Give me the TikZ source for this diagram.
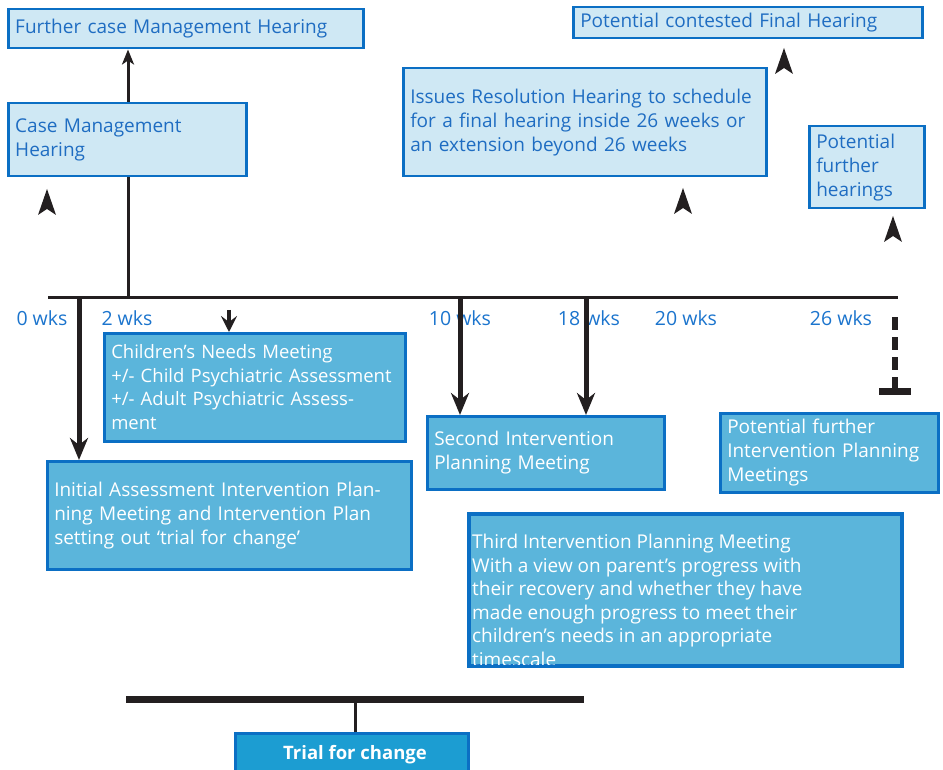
\documentclass[tikz,border=0pt]{standalone}
\usepackage{fontspec}
\setmainfont{Open Sans}
\usetikzlibrary{calc, positioning}
\usetikzlibrary{arrows.meta}

\definecolor{boxline}{HTML}{0B6FC4}
\definecolor{palefill}{HTML}{CFE8F4}
\definecolor{paletext}{HTML}{1F6DC2}
\definecolor{deepfill}{HTML}{5BB5DB}
\definecolor{trialfill}{HTML}{1C9DD2}
\definecolor{wkstext}{HTML}{1B74CD}
\definecolor{ink}{HTML}{231F20}

\begin{document}
\begin{tikzpicture}[x=1pt, y=-1pt,
  pale/.style={draw=boxline, fill=palefill, line width=2.5pt, text=paletext, align=left,
    anchor=north west, inner xsep=7pt, inner ysep=0pt, font=\fontsize{19}{24}\selectfont},
  deep/.style={pale, fill=deepfill, text=white},
  wks/.style={text=wkstext, font=\fontsize{19.5}{20}\selectfont, inner sep=0pt},
  flow/.style={ink, line width=5pt, -{Stealth[length=22pt, width=18pt, inset=7pt]}},
  upflow/.style={ink, line width=3pt, -{Stealth[length=15pt, width=12pt, inset=4pt]}}]
\clip (0,0) rectangle (943,770);

\coordinate (w0) at (79,298);
\coordinate (w2) at (128,298);
\coordinate (c2) at (229,310);
\coordinate (w10) at (460,298);
\coordinate (w18) at (586,298);
\coordinate (d0) at (895,317);
\coordinate (d1) at (895,391);
\coordinate (L) at (48,298);
\coordinate (R) at (898,298);
\coordinate (b0) at (126,699);
\coordinate (b1) at (584,699);
\coordinate (bm) at (355,699);

\node[pale, text width=341pt, minimum height=39pt] (fcmh) at (7,8) {Further case Management Hearing};
\node[pale, text width=224pt, minimum height=73pt] (cmh) at (7,102) {Case Management\\Hearing};
\node[pale, text width=335pt, minimum height=31pt] (pcfh) at (572,6) {Potential contested Final Hearing};
\node[pale, text width=349pt, minimum height=108pt] (irh) at (402,67) {Issues Resolution Hearing to schedule\\for a final hearing inside 26 weeks or\\an extension beyond 26 weeks};
\node[pale, text width=101pt, minimum height=82pt] (pfh) at (808,125) {Potential\\further\\hearings};

\node[deep, text width=287pt, minimum height=108pt, font=\fontsize{18.5}{23.5}\selectfont] (cnm) at (103,332) {Children’s Needs Meeting\\+/- Child Psychiatric Assessment\\+/- Adult Psychiatric Assess-\\ment};
\node[deep, text width=350pt, minimum height=108pt] (iaipm) at (46,460) {Initial Assessment Intervention Plan-\\ning Meeting and Intervention Plan\\setting out ‘trial for change’};
\node[deep, text width=223pt, minimum height=73pt] (sipm) at (426,415) {Second Intervention\\Planning Meeting};
\node[deep, text width=204pt, minimum height=79pt] (pfipm) at (719,412) {Potential further\\Intervention Planning\\Meetings};

\node[deep, text width=418pt, minimum height=151pt] (tipm) at (468,513) {};
\begin{scope}
\clip (tipm.north west) rectangle (tipm.south east);
\node[anchor=north west, text=white, align=left, inner sep=0pt,
  font=\fontsize{19}{23.5}\selectfont] (tipmtxt) at ($(tipm.north west)+(4,21)$)
  {Third Intervention Planning Meeting\\With a view on parent’s progress with\\their recovery and whether they have\\made enough progress to meet their\\children’s needs in an appropriate\\timescale};
\end{scope}
\draw[boxline, line width=2.5pt] (tipm.north west) rectangle (tipm.south east);

\node[pale, fill=trialfill, text=white, align=center, anchor=north, minimum width=233pt,
  minimum height=42pt, font=\bfseries\fontsize{18.5}{20}\selectfont] (trial) at (352,732) {\hspace*{6pt}Trial for change};

\node[wks] (l0) at (42,318) {0 wks};
\node[wks] (l2) at (127,318) {2 wks};
\node[wks] (l10) at (460,318) {10 wks};
\node[wks] (l18) at (589,318) {18 wks};
\node[wks] (l20) at (686,318) {20 wks};
\node[wks] (l26) at (841,318) {26 wks};

\draw[ink, line width=3pt] (L) -- (R);
\draw[ink, line width=3pt] (w2) -- (w2 |- cmh.south);
\draw[upflow] (cmh.north -| w2) -- (fcmh.south -| w2);

\draw[flow] (w0) -- (w0 |- iaipm.north);
\draw[flow, line width=4pt, -{Stealth[length=16pt, width=16pt, inset=6pt]}] (c2) -- (c2 |- cnm.north);
\draw[flow] (w10) -- (w10 |- sipm.north);
\draw[flow] (w18) -- (w18 |- sipm.north);

\draw[ink, line width=6pt, dash pattern=on 13pt off 7pt] (d0) -- (d1);
\draw[ink, line width=7pt] ($(d1)+(-16,0)$) -- ($(d1)+(16,0)$);

\coordinate (h1) at (47,189);
\coordinate (h2) at (683,188);
\coordinate (h3) at (784,48);
\coordinate (h4) at (893,216);
\foreach \h in {h1,h2,h3,h4}{
  \fill[ink] (\h) -- ++(-9,26) -- ++(9,-6) -- ++(9,6) -- cycle;
}

\draw[ink, line width=7pt] (b0) -- (b1);
\draw[ink, line width=3pt] (bm) -- (bm |- trial.north);
\end{tikzpicture}
\end{document}
